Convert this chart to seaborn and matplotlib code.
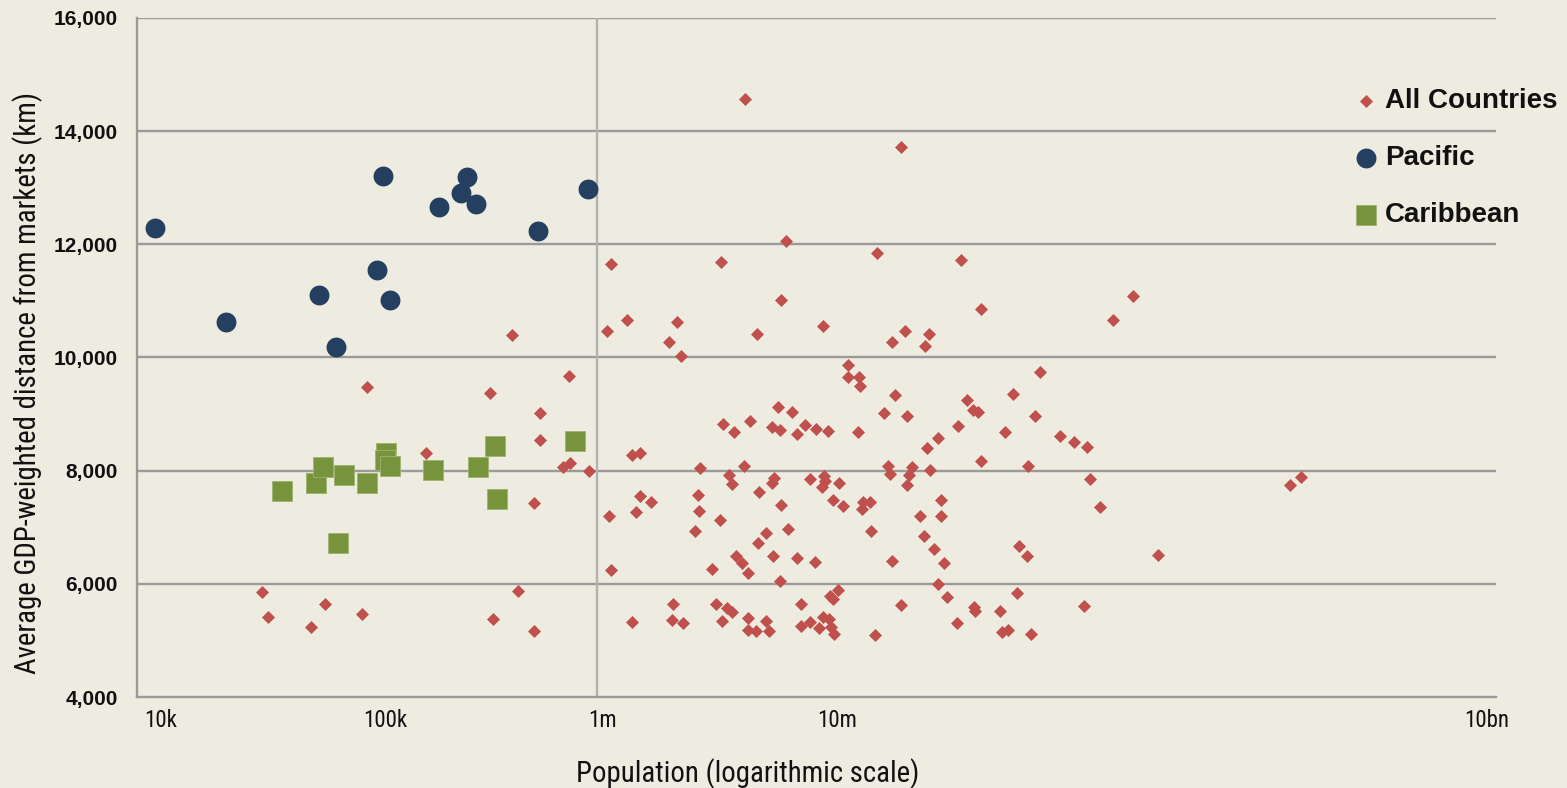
import numpy as np
import pandas as pd
import seaborn as sns
import matplotlib
matplotlib.use("Agg")
import matplotlib.pyplot as plt
from matplotlib import font_manager
from matplotlib.transforms import ScaledTranslation

# ---------------------------------------------------------------------------
# Data: population (people) and average GDP-weighted distance from markets (km)
# ---------------------------------------------------------------------------
all_pop = [
    416e3, 94.7e3, 748e3, 332e3, 558e3, 555e3, 173e3, 706e3, 756e3, 525e3,
    32.1e3, 34.2e3, 61.6e3, 53.0e3, 90.0e3, 442e3, 343e3, 525e3,
    4.53e6, 1.15e6, 3.55e6, 6.59e6, 1.36e6, 1.10e6, 2.27e6, 2.09e6, 2.35e6, 5.13e6,
    919e3, 1.42e6, 1.55e6, 3.62e6, 4.07e6, 4.79e6, 2.86e6, 4.49e6, 3.87e6, 3.99e6,
    5.23e6, 1.55e6, 1.74e6, 1.49e6, 1.13e6, 2.80e6, 2.84e6, 3.50e6, 2.71e6, 5.62e6,
    5.20e6, 4.13e6, 4.40e6, 4.66e6, 6.08e6, 1.15e6, 3.25e6, 2.18e6, 1.43e6, 2.15e6,
    2.41e6, 3.37e6, 3.77e6, 3.99e6, 3.57e6, 4.69e6, 4.68e6, 5.07e6, 5.65e6, 5.81e6,
    22.5e6, 6.92e6, 17.6e6, 41.5e6, 50.9e6, 10.1e6, 23.4e6, 20.5e6, 29.9e6, 28.7e6,
    13.1e6, 13.0e6, 14.6e6, 14.8e6, 21.2e6, 44.2e6,
    6.37e6, 7.38e6, 5.98e6, 6.49e6, 8.38e6, 7.72e6, 9.40e6, 10.6e6, 14.4e6, 18.9e6,
    24.0e6, 40.1e6, 32.8e6, 29.2e6, 50.9e6, 47.0e6, 49.5e6, 6.12e6, 5.98e6, 8.81e6,
    10.2e6, 10.3e6, 10.0e6, 11.9e6, 19.7e6, 20.0e6, 25.2e6, 24.4e6, 23.8e6, 30.3e6,
    6.58e6, 11.2e6, 12.4e6, 15.3e6, 16.3e6, 15.1e6, 33.9e6, 27.4e6, 33.9e6, 7.06e6,
    16.5e6, 28.5e6, 31.6e6, 34.8e6, 7.74e6, 9.28e6, 20.5e6, 6.51e6, 32.8e6, 36.1e6,
    11.8e6, 10.9e6, 11.2e6, 8.04e6, 22.5e6, 47.4e6, 48.2e6, 39.9e6, 8.09e6, 8.81e6,
    9.70e6, 10.1e6, 10.7e6, 11.0e6, 11.3e6, 17.3e6,
    242e6, 198e6, 93.8e6, 70.8e6,
    88.5e6, 65.0e6, 115e6, 132e6, 151e6, 82.4e6, 156e6, 173e6, 75.3e6, 81.7e6,
    313e6, 73.8e6, 62.2e6, 147e6, 63.2e6, 67.1e6, 85.1e6,
    1.35e9, 1.21e9,
]
all_dist = [
    10400, 9480, 9680, 9370, 9020, 8540, 8320, 8070, 8140, 7430,
    5860, 5420, 5650, 5230, 5470, 5880, 5370, 5160,
    14560, 11660, 11690, 11010, 10660, 10470, 10630, 10280, 10030, 10420,
    7990, 8280, 8310, 8830, 8680, 8870, 8040, 8080, 7920, 7760,
    7630, 7550, 7450, 7270, 7190, 7570, 7280, 7120, 6930, 6900,
    6730, 6490, 6370, 6200, 6490, 6240, 6260, 5650, 5320, 5360,
    5300, 5650, 5580, 5500, 5350, 5390, 5180, 5170, 5350, 5160,
    13720, 12060, 11850, 11720, 10850, 10550, 10470, 10280, 10420, 10210,
    9860, 9650, 9650, 9500, 9340, 9250,
    9120, 9040, 8780, 8720, 8810, 8640, 8730, 8700, 8690, 9020,
    8970, 8790, 8580, 8400, 8170, 9070, 9040, 7870, 7780, 7850,
    7910, 7820, 7720, 7790, 8080, 7940, 8070, 7930, 7750, 8020,
    7400, 7490, 7380, 7440, 7440, 7320, 7490, 7190, 7190, 6970,
    6940, 6840, 6610, 6360, 6450, 6390, 6400, 6050, 5990, 5760,
    5890, 5790, 5730, 5650, 5630, 5590, 5520, 5300, 5250, 5320,
    5220, 5420, 5380, 5230, 5110, 5100,
    11080, 10670, 9750, 9360,
    8960, 8690, 8610, 8510, 8410, 8080, 7850, 7350, 6670, 6500,
    6510, 5840, 5520, 5610, 5140, 5190, 5120,
    7890, 7750,
]

pacific_pop = [10.7e3, 22.2e3, 57.5e3, 68.5e3, 105e3, 111e3, 120e3,
               197e3, 246e3, 264e3, 287e3, 547e3, 906e3]
pacific_dist = [12290, 10630, 11100, 10190, 11550, 13210, 11020,
                12660, 12910, 13190, 12710, 12240, 12970]

caribbean_pop = [39.4e3, 55.8e3, 60.4e3, 74.3e3, 70.1e3, 94.4e3, 115e3,
                 113e3, 119e3, 185e3, 295e3, 349e3, 359e3, 799e3]
caribbean_dist = [7640, 7790, 8060, 7920, 6730, 7790, 8310,
                  8180, 8080, 8010, 8060, 8440, 7500, 8520]

x_tick_values = [1e4, 1e5, 1e6, 1e7, 1e10]
x_tick_labels = ["10k", "100k", "1m", "10m", "10bn"]
y_tick_values = [4000, 6000, 8000, 10000, 12000, 14000, 16000]

series_names = ["All Countries", "Pacific", "Caribbean"]

# ---------------------------------------------------------------------------
# Styling
# ---------------------------------------------------------------------------
BG = "#EEEBE0"
RED = "#C0504D"
NAVY = "#243F60"
GREEN = "#77933C"
GRID = "#9A9A9A"

sns.set_theme(style="white", rc={"figure.facecolor": BG, "axes.facecolor": BG,
                                 "savefig.facecolor": BG})

installed = {f.name for f in font_manager.fontManager.ttflist}
narrow = next((f for f in ["Liberation Sans Narrow", "Roboto Condensed",
                           "Open Sans Condensed", "Liberation Sans"]
               if f in installed), "DejaVu Sans")
plt.rcParams["font.family"] = [narrow, "DejaVu Sans"]

W, H = 1567, 788
fig = plt.figure(figsize=(W / 100, H / 100), dpi=100)
L, R, T, B = 137, 1496, 18, 697
ax = fig.add_axes([L / W, 1 - B / H, (R - L) / W, (B - T) / H])

df_all = pd.DataFrame({"pop": all_pop, "dist": all_dist})
df_pac = pd.DataFrame({"pop": pacific_pop, "dist": pacific_dist})
df_car = pd.DataFrame({"pop": caribbean_pop, "dist": caribbean_dist})

sns.scatterplot(data=df_all, x="pop", y="dist", marker="D", s=44, color=RED,
                linewidth=0, ax=ax, label=series_names[0], zorder=3)
sns.scatterplot(data=df_pac, x="pop", y="dist", marker="o", s=205, color=NAVY,
                linewidth=0, ax=ax, label=series_names[1], zorder=4)
sns.scatterplot(data=df_car, x="pop", y="dist", marker="s", s=195, color=GREEN,
                edgecolor="#9DB46E", linewidth=0.6, ax=ax,
                label=series_names[2], zorder=5)

ax.set_xscale("log")
ax.set_xlim(10 ** 3.951, 10 ** 9.991)
ax.set_ylim(4000, 16000)

# horizontal gridlines and the 1m reference line
for yv in y_tick_values[1:]:
    ax.axhline(yv, color=GRID, lw=1.7, zorder=1)
ax.axvline(1e6, color="#B2B2B2", lw=1.7, zorder=1)

for side in ["top", "right"]:
    ax.spines[side].set_visible(False)
for side in ["left", "bottom"]:
    ax.spines[side].set_color(GRID)
    ax.spines[side].set_linewidth(1.7)

ax.set_yticks(y_tick_values)
ax.set_yticklabels([f"{v:,}" for v in y_tick_values])
ax.tick_params(axis="y", direction="out", length=4, width=1.4, color=GRID,
               pad=10, labelsize=15, labelcolor="#111111")
for lab in ax.get_yticklabels():
    lab.set_fontfamily(["Liberation Sans", "DejaVu Sans"])
    lab.set_fontweight("bold")

ax.xaxis.set_minor_locator(matplotlib.ticker.NullLocator())
ax.set_xticks(x_tick_values)
ax.set_xticklabels(x_tick_labels)
ax.tick_params(axis="x", length=0, pad=8.5, labelsize=16.5, labelcolor="#111111")
label_shift_px = [13, 13, 5, 15, -9]
for lab, dx in zip(ax.get_xticklabels(), label_shift_px):
    lab.set_transform(lab.get_transform() +
                      ScaledTranslation(dx / 100, 0, fig.dpi_scale_trans))

ax.set_xlabel("Population (logarithmic scale)", fontsize=20.7, color="#111111")
ax.xaxis.set_label_coords((748 - L) / (R - L), -(774 - B) / (B - T))
ax.xaxis.label.set_va("center")
ax.set_ylabel("Average GDP-weighted distance from markets (km)", fontsize=20.7,
              color="#111111")
ax.yaxis.set_label_coords(-(L - 28) / (R - L), (B - 383) / (B - T))
ax.yaxis.label.set_va("center")

handles, labels = ax.get_legend_handles_labels()
ax.get_legend().remove()
leg = fig.legend(handles, labels, loc="upper left",
                 bbox_to_anchor=(1352 / W, 1 - 88 / H), frameon=False,
                 prop={"family": ["Liberation Sans", "DejaVu Sans"],
                       "weight": "bold", "size": 20},
                 labelspacing=1.12, handlelength=1.0, handletextpad=0.2,
                 borderpad=0, borderaxespad=0)
for t in leg.get_texts():
    t.set_color("#111111")

fig.savefig("out.png", dpi=100, facecolor=BG)
